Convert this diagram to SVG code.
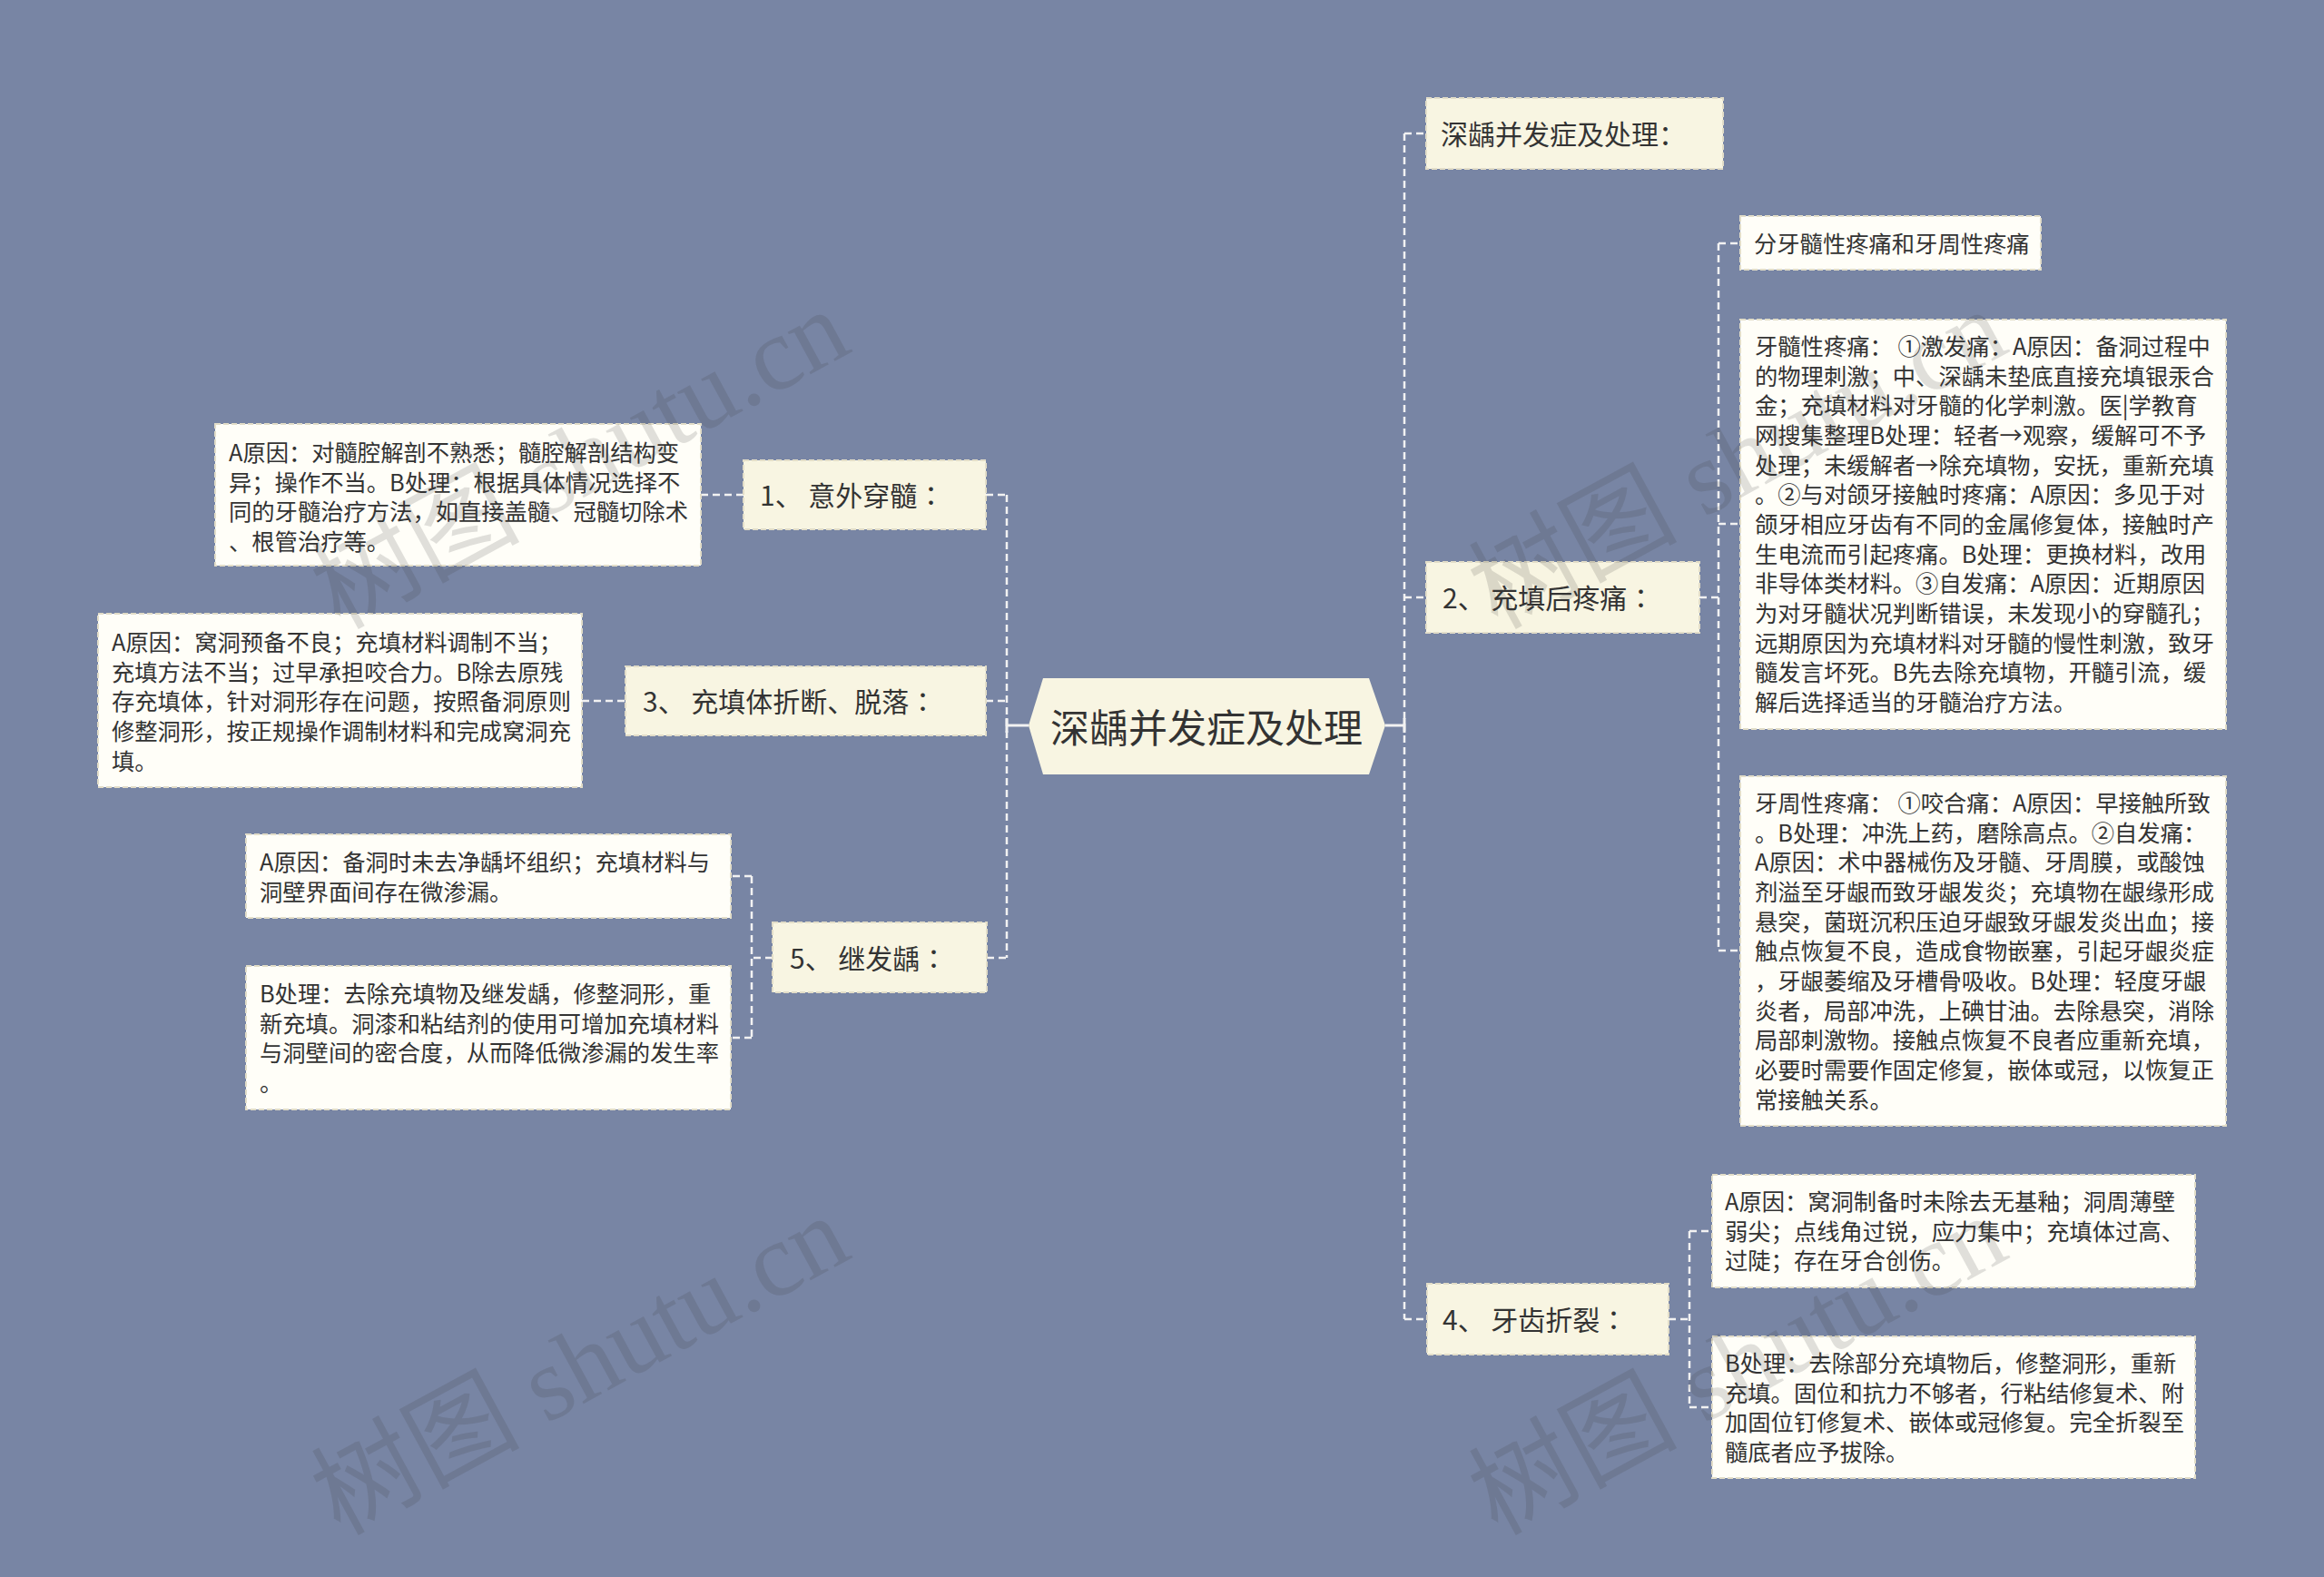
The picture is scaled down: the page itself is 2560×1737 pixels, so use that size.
<svg xmlns="http://www.w3.org/2000/svg" width="2560" height="1737" viewBox="0 0 2560 1737">
<style>
.bg{fill:#7885a4}
.lvl1{fill:#f8f5e2;stroke:#e2ddc8;stroke-width:2;stroke-dasharray:6 3}
.leaf{fill:#fffef8;stroke:#e2ddc8;stroke-width:2;stroke-dasharray:6 3}
.conn{fill:none;stroke:#f2f2f2;stroke-width:2.5;stroke-dasharray:8 5}
.solid{fill:none;stroke:#f2f2f2;stroke-width:3}
text{font-family:"Microsoft YaHei","Noto Sans CJK SC","Noto Sans",sans-serif;fill:#333333;dominant-baseline:central}
.t30{font-size:30px}
.t25{font-size:25.3px}
.t43{font-size:43px}
.c{font-family:"Noto Sans CJK JP",sans-serif}
.wm{font-family:"Liberation Serif","Noto Sans CJK SC",serif;font-size:115px;fill:#404040;fill-opacity:0.16;dominant-baseline:auto}
</style>
<rect class="bg" x="0" y="0" width="2560" height="1737"/>

<g id="connectors">
  <path class="solid" d="M1133 799 H1109 M1109 791 V807"/>
  <path class="solid" d="M1526 799 H1547 M1547 791 V807"/>
  <path class="conn" d="M1109 545 V1055"/>
  <path class="conn" d="M1086 545 H1109"/>
  <path class="conn" d="M1086 772 H1109"/>
  <path class="conn" d="M1087 1055 H1109"/>
  <path class="conn" d="M772 545 H819"/>
  <path class="conn" d="M641 772 H689"/>
  <path class="conn" d="M851 1055 H828 M828 965 V1143 M828 965 H805 M828 1143 H805"/>
  <path class="conn" d="M1547 147 V1453"/>
  <path class="conn" d="M1547 147 H1571"/>
  <path class="conn" d="M1547 658 H1571"/>
  <path class="conn" d="M1547 1453 H1572"/>
  <path class="conn" d="M1872 658 H1893 M1893 268 V1047 M1893 268 H1917 M1893 577 H1917 M1893 1047 H1917"/>
  <path class="conn" d="M1838 1453 H1861 M1861 1356 V1550 M1861 1356 H1886 M1861 1550 H1886"/>
</g>

<g id="root">
  <polygon points="1133,799 1149,747 1508,747 1526,799 1508,853 1149,853" fill="#f8f5e2"/>
  <text class="t43" x="1329" y="799" text-anchor="middle">深龋并发症及处理</text>
</g>

<g id="n1">
  <rect class="lvl1" x="819" y="507" width="267" height="76"/>
  <text class="t30" x="837" y="544">1、 意外穿髓<tspan class="c">：</tspan></text>
</g>
<g id="n1a">
  <rect class="leaf" x="237" y="467" width="535" height="156"/>
  <text class="t25" x="252" y="497">A原因：对髓腔解剖不熟悉；髓腔解剖结构变</text>
  <text class="t25" x="252" y="530">异；操作不当。B处理：根据具体情况选择不</text>
  <text class="t25" x="252" y="562">同的牙髓治疗方法，如直接盖髓、冠髓切除术</text>
  <text class="t25" x="252" y="595">、根管治疗等。</text>
</g>

<g id="n3">
  <rect class="lvl1" x="689" y="734" width="397" height="76"/>
  <text class="t30" x="708" y="771">3、 充填体折断、脱落<tspan class="c">：</tspan></text>
</g>
<g id="n3a">
  <rect class="leaf" x="108" y="676" width="533" height="191"/>
  <text class="t25" x="123" y="706">A原因：窝洞预备不良；充填材料调制不当；</text>
  <text class="t25" x="123" y="739">充填方法不当；过早承担咬合力。B除去原残</text>
  <text class="t25" x="123" y="771">存充填体，针对洞形存在问题，按照备洞原则</text>
  <text class="t25" x="123" y="804">修整洞形，按正规操作调制材料和完成窝洞充</text>
  <text class="t25" x="123" y="837">填。</text>
</g>

<g id="n5">
  <rect class="lvl1" x="851" y="1016" width="236" height="77"/>
  <text class="t30" x="870" y="1054">5、 继发龋<tspan class="c">：</tspan></text>
</g>
<g id="n5a">
  <rect class="leaf" x="271" y="919" width="534" height="92"/>
  <text class="t25" x="286" y="948">A原因：备洞时未去净龋坏组织；充填材料与</text>
  <text class="t25" x="286" y="981">洞壁界面间存在微渗漏。</text>
</g>
<g id="n5b">
  <rect class="leaf" x="271" y="1064" width="534" height="158"/>
  <text class="t25" x="286" y="1093">B处理：去除充填物及继发龋，修整洞形，重</text>
  <text class="t25" x="286" y="1126">新充填。洞漆和粘结剂的使用可增加充填材料</text>
  <text class="t25" x="286" y="1158">与洞壁间的密合度，从而降低微渗漏的发生率</text>
  <text class="t25" x="286" y="1191">。</text>
</g>

<g id="r0">
  <rect class="lvl1" x="1571" y="108" width="327" height="78"/>
  <text class="t30" x="1587" y="146">深龋并发症及处理：</text>
</g>

<g id="n2">
  <rect class="lvl1" x="1571" y="619" width="301" height="78"/>
  <text class="t30" x="1589" y="657">2、 充填后疼痛<tspan class="c">：</tspan></text>
</g>
<g id="n2a">
  <rect class="leaf" x="1917" y="238" width="331" height="59"/>
  <text class="t25" x="1932" y="267">分牙髓性疼痛和牙周性疼痛</text>
</g>
<g id="n2b">
  <rect class="leaf" x="1917" y="352" width="535" height="451"/>
  <text class="t25" x="1933" y="380">牙髓性疼痛： ①激发痛：A原因：备洞过程中</text>
  <text class="t25" x="1933" y="413">的物理刺激；中、深龋未垫底直接充填银汞合</text>
  <text class="t25" x="1933" y="445">金；充填材料对牙髓的化学刺激。医|学教育</text>
  <text class="t25" x="1933" y="478">网搜集整理B处理：轻者→观察，缓解可不予</text>
  <text class="t25" x="1933" y="511">处理；未缓解者→除充填物，安抚，重新充填</text>
  <text class="t25" x="1933" y="543">。②与对颌牙接触时疼痛：A原因：多见于对</text>
  <text class="t25" x="1933" y="576">颌牙相应牙齿有不同的金属修复体，接触时产</text>
  <text class="t25" x="1933" y="609">生电流而引起疼痛。B处理：更换材料，改用</text>
  <text class="t25" x="1933" y="641">非导体类材料。③自发痛：A原因：近期原因</text>
  <text class="t25" x="1933" y="674">为对牙髓状况判断错误，未发现小的穿髓孔；</text>
  <text class="t25" x="1933" y="707">远期原因为充填材料对牙髓的慢性刺激，致牙</text>
  <text class="t25" x="1933" y="739">髓发言坏死。B先去除充填物，开髓引流，缓</text>
  <text class="t25" x="1933" y="772">解后选择适当的牙髓治疗方法。</text>
</g>
<g id="n2c">
  <rect class="leaf" x="1917" y="855" width="535" height="385"/>
  <text class="t25" x="1933" y="883">牙周性疼痛： ①咬合痛：A原因：早接触所致</text>
  <text class="t25" x="1933" y="916">。B处理：冲洗上药，磨除高点。②自发痛：</text>
  <text class="t25" x="1933" y="948">A原因：术中器械伤及牙髓、牙周膜，或酸蚀</text>
  <text class="t25" x="1933" y="981">剂溢至牙龈而致牙龈发炎；充填物在龈缘形成</text>
  <text class="t25" x="1933" y="1014">悬突，菌斑沉积压迫牙龈致牙龈发炎出血；接</text>
  <text class="t25" x="1933" y="1046">触点恢复不良，造成食物嵌塞，引起牙龈炎症</text>
  <text class="t25" x="1933" y="1079">，牙龈萎缩及牙槽骨吸收。B处理：轻度牙龈</text>
  <text class="t25" x="1933" y="1112">炎者，局部冲洗，上碘甘油。去除悬突，消除</text>
  <text class="t25" x="1933" y="1144">局部刺激物。接触点恢复不良者应重新充填，</text>
  <text class="t25" x="1933" y="1177">必要时需要作固定修复，嵌体或冠，以恢复正</text>
  <text class="t25" x="1933" y="1210">常接触关系。</text>
</g>

<g id="n4">
  <rect class="lvl1" x="1572" y="1414" width="266" height="78"/>
  <text class="t30" x="1589" y="1452">4、 牙齿折裂<tspan class="c">：</tspan></text>
</g>
<g id="n4a">
  <rect class="leaf" x="1886" y="1294" width="532" height="124"/>
  <text class="t25" x="1900" y="1322">A原因：窝洞制备时未除去无基釉；洞周薄壁</text>
  <text class="t25" x="1900" y="1355">弱尖；点线角过锐，应力集中；充填体过高、</text>
  <text class="t25" x="1900" y="1387">过陡；存在牙合创伤。</text>
</g>
<g id="n4b">
  <rect class="leaf" x="1886" y="1472" width="532" height="156"/>
  <text class="t25" x="1900" y="1500">B处理：去除部分充填物后，修整洞形，重新</text>
  <text class="t25" x="1900" y="1533">充填。固位和抗力不够者，行粘结修复术、附</text>
  <text class="t25" x="1900" y="1565">加固位钉修复术、嵌体或冠修复。完全折裂至</text>
  <text class="t25" x="1900" y="1598">髓底者应予拔除。</text>
</g>

<g id="watermarks">
  <text class="wm" transform="translate(374,694) rotate(-28.5)">树图 shutu.cn</text>
  <text class="wm" transform="translate(374,1692) rotate(-28.5)">树图 shutu.cn</text>
  <text class="wm" transform="translate(1649,694) rotate(-28.5)">树图 shutu.cn</text>
  <text class="wm" transform="translate(1649,1692) rotate(-28.5)">树图 shutu.cn</text>
</g>
</svg>
